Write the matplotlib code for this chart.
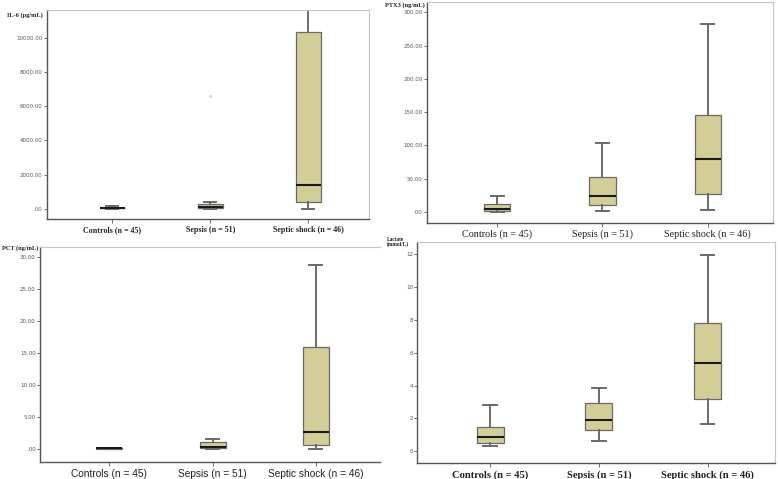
import matplotlib
matplotlib.use("Agg")
import matplotlib.pyplot as plt

groups = ["Controls (n = 45)", "Sepsis (n = 51)", "Septic shock (n = 46)"]

# five-number summaries: low whisker, q1, median, q3, high whisker
il6_low = [0, 0, 10]
il6_q1 = [20, 40, 371]
il6_med = [40, 110, 1387]
il6_q3 = [70, 290, 10332]
il6_high = [150, 410, 11640]
il6_out = [[], [6600], []]

ptx3_low = [0.5, 1, 3.5]
ptx3_q1 = [1.5, 10.5, 26.8]
ptx3_med = [4, 24, 80]
ptx3_q3 = [12, 52, 145]
ptx3_high = [24.5, 103, 282]

pct_low = [0.08, 0.03, 0.1]
pct_q1 = [0.1, 0.15, 0.62]
pct_med = [0.13, 0.4, 2.75]
pct_q3 = [0.18, 1.2, 15.9]
pct_high = [0.2, 1.6, 28.7]

lac_low = [0.32, 0.61, 1.66]
lac_q1 = [0.49, 1.3, 3.2]
lac_med = [0.89, 1.88, 5.37]
lac_q3 = [1.46, 2.94, 7.8]
lac_high = [2.8, 3.85, 11.93]

W, H = 778, 479
fig = plt.figure(figsize=(W / 100, H / 100), dpi=100)

BOX = "#d3cd97"
EDGE = "#6a6a6a"


def px_axes(left, top, right, bottom):
    return fig.add_axes([left / W, 1 - bottom / H, (right - left) / W, (bottom - top) / H])


def fmt2(v):
    s = f"{v:.2f}"
    return s[1:] if s.startswith("0") else s


def draw(ax, low, q1, med, q3, high, ylim, yticks, ylabels, xfont, outliers=None):
    stats = []
    for i in range(3):
        stats.append(dict(whislo=low[i], q1=q1[i], med=med[i], q3=q3[i], whishi=high[i],
                          fliers=outliers[i] if outliers else []))
    ax.bxp(stats, positions=[1, 2, 3], widths=0.25, patch_artist=True,
           boxprops=dict(facecolor=BOX, edgecolor=EDGE, linewidth=0.9),
           medianprops=dict(color="#1a1a1a", linewidth=1.5),
           whiskerprops=dict(color=EDGE, linewidth=1.4),
           capprops=dict(color=EDGE, linewidth=1.4),
           capwidths=0.125,
           flierprops=dict(marker="o", markersize=1.5, markerfacecolor="#cccccc",
                           markeredgecolor="#dddddd"))
    ax.set_xlim(0.33, 3.62)
    ax.set_ylim(*ylim)
    ax.set_yticks(yticks)
    ax.set_yticklabels(ylabels)
    ax.tick_params(axis="y", labelsize=4, labelcolor="#555555", length=2, width=0.6,
                   color="#555555", pad=1)
    ax.set_xticks([1, 2, 3])
    ax.set_xticklabels(groups, **xfont)
    ax.tick_params(axis="x", length=3, width=0.6, color="#555555", pad=2)
    for s in ["left", "bottom"]:
        ax.spines[s].set_color("#555555")
        ax.spines[s].set_linewidth(1.0)
    for s in ["top", "right"]:
        ax.spines[s].set_color("#c4c4c4")
        ax.spines[s].set_linewidth(0.8)


serif_bold = dict(fontfamily="Liberation Serif", fontweight="bold")

# IL-6
ax1 = px_axes(46.7, 10, 369, 219)
t = [0, 2000, 4000, 6000, 8000, 10000]
draw(ax1, il6_low, il6_q1, il6_med, il6_q3, il6_high, (-603, 11640), t, [fmt2(v) for v in t],
     dict(fontsize=5.8, color="#222222", **serif_bold), outliers=il6_out)

# PTX3
ax2 = px_axes(426.7, 1.7, 773, 222.7)
t = [0, 50, 100, 150, 200, 250, 300]
draw(ax2, ptx3_low, ptx3_q1, ptx3_med, ptx3_q3, ptx3_high, (-16, 315.9), t, [fmt2(v) for v in t],
     dict(fontsize=7.3, color="#222222", fontfamily="Liberation Serif"))

# PCT
ax3 = px_axes(40, 246.7, 380, 461.7)
t = [0, 5, 10, 15, 20, 25, 30]
draw(ax3, pct_low, pct_q1, pct_med, pct_q3, pct_high, (-1.93, 31.6), t, [fmt2(v) for v in t],
     dict(fontsize=7.3, color="#222222", fontfamily="Liberation Sans"))
ax3.spines["right"].set_visible(False)

# Lactate
ax4 = px_axes(417.3, 242.3, 775, 463)
t = [0, 2, 4, 6, 8, 10, 12]
draw(ax4, lac_low, lac_q1, lac_med, lac_q3, lac_high, (-0.71, 12.71), t, [str(v) for v in t],
     dict(fontsize=7.6, color="#222222", **serif_bold))

# axis titles sitting at the top left of each panel
lab = dict(fontsize=4.6, color="#222222", fontfamily="Liberation Serif", fontweight="bold",
           va="center")
fig.text(7 / W, 1 - 15 / H, "IL-6 (pg/mL)", ha="left", **lab)
fig.text(385 / W, 1 - 5 / H, "PTX3 (ng/mL)", ha="left", **lab)
fig.text(2 / W, 1 - 248 / H, "PCT (ng/mL)", ha="left", **lab)
fig.text(387 / W, 1 - 242 / H, "Lactate\n(mmol/L)", ha="left", linespacing=1.0,
         **{**lab, "fontsize": 4.0})

fig.savefig("out.png", dpi=100)
